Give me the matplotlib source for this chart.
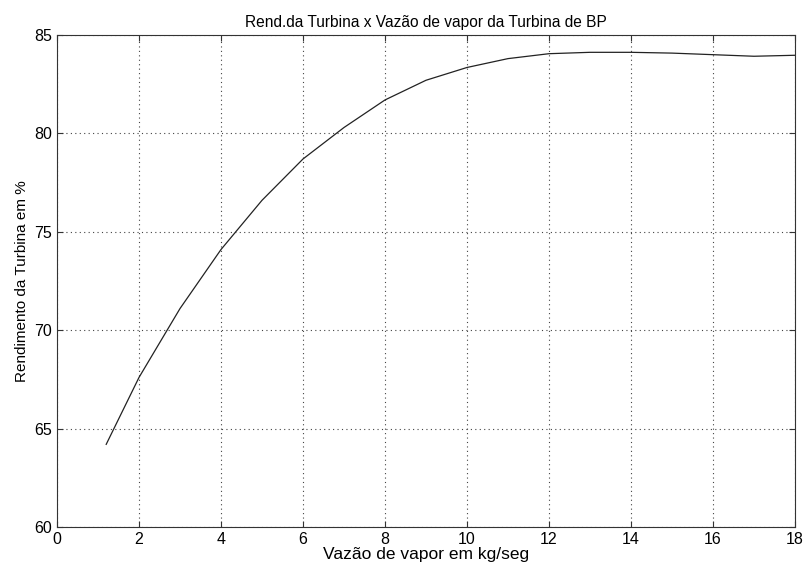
import matplotlib
matplotlib.use("Agg")
import matplotlib.pyplot as plt
from matplotlib import font_manager as fm

# vazão de vapor (kg/s) e rendimento (%)
vazao = [1.2, 2, 3, 4, 5, 6, 7, 8, 9, 10, 11, 12, 13, 14, 15, 16, 17, 18]
rend = [64.2, 67.6, 71.1, 74.1, 76.6, 78.7, 80.3, 81.7, 82.7, 83.35, 83.8,
        84.05, 84.12, 84.12, 84.08, 84.0, 83.92, 83.97]
xticks = list(range(0, 19, 2))
yticks = [60, 65, 70, 75, 80, 85]

# pick the regular (non-narrow) Liberation Sans file explicitly
reg = [f.fname for f in fm.fontManager.ttflist
       if f.name == "Liberation Sans" and "Narrow" not in f.fname
       and f.style == "normal" and f.weight in (400, "normal")]
if reg:
    fm.fontManager.addfont(reg[0])
    def fp(size):
        return fm.FontProperties(fname=reg[0], size=size)
else:
    def fp(size):
        return fm.FontProperties(family="DejaVu Sans", size=size)

fig = plt.figure(figsize=(8.05, 5.63), dpi=100)
ax = fig.add_axes([57 / 805, 1 - 527 / 563, (795 - 57) / 805, (527 - 35) / 563])
ax.plot(vazao, rend, color="#222222", lw=0.9)
ax.set_xlim(0, 18)
ax.set_ylim(60, 85)
ax.set_xticks(xticks)
ax.set_yticks(yticks)
ax.grid(True, linestyle=(0, (1, 3)), color="#444444", lw=0.8)
for s in ax.spines.values():
    s.set_color("#333333")
ax.tick_params(direction="in", top=True, right=True, length=4, color="#333333")
for lbl in ax.get_xticklabels() + ax.get_yticklabels():
    lbl.set_fontproperties(fp(11.5))
ax.set_title("Rend.da Turbina x Vazão de vapor da Turbina de BP", fontproperties=fp(11.2), pad=6)
ax.set_xlabel("Vazão de vapor em kg/seg", fontproperties=fp(12.5), labelpad=0)
ax.set_ylabel("Rendimento da Turbina em %", fontproperties=fp(11), labelpad=4)
fig.savefig("out.png", dpi=100)
